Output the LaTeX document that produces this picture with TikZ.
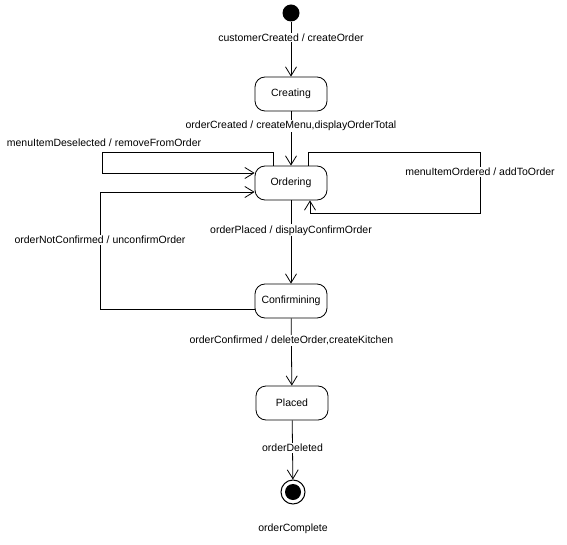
\documentclass[tikz,border=0pt]{standalone}
\usepackage{fontspec}
\setmainfont{Liberation Sans}
\usetikzlibrary{arrows.meta}

\begin{document}
\begin{tikzpicture}[x=1pt,y=-1pt,
    state/.style={draw,line width=0.8pt,rounded corners=10pt,minimum width=72pt,minimum height=34pt,inner sep=0pt,font=\fontsize{10.5}{12}\selectfont},
    trans/.style={draw,line width=0.8pt,-{Straight Barb[length=9pt,width=11pt]}},
    lbl/.style={fill=white,inner sep=1pt,font=\fontsize{10.5}{12}\selectfont}]
    \useasboundingbox (0,0) rectangle (567,545);

    % states
    \node[circle,fill,minimum size=17pt,inner sep=0pt] (init) at (291,13) {};
    \node[state] (creating) at (291,94) {Creating};
    \node[state] (ordering) at (291,183) {Ordering};
    \node[state] (confirming) at (291,301) {Confirmining};
    \node[state] (placed) at (292,403) {Placed};
    \node[circle,draw,line width=1pt,minimum size=24pt,inner sep=0pt] (final) at (293,492) {};
    \node[circle,fill,minimum size=16pt,inner sep=0pt] (finaldot) at (final) {};
    \node[font=\fontsize{10.5}{12}\selectfont] (finallbl) at (293,529) {orderComplete};

    % straight transitions
    \draw[trans] (init) -- (creating) node[lbl,pos=0.29] {customerCreated / createOrder};
    \draw[trans] (creating) -- (ordering) node[lbl,pos=0.27] {orderCreated / createMenu,displayOrderTotal};
    \draw[trans] (ordering) -- (confirming) node[lbl,pos=0.36] {orderPlaced / displayConfirmOrder};
    \draw[trans] (confirming) -- (placed) node[lbl,pos=0.33] {orderConfirmed / deleteOrder,createKitchen};
    \draw[trans] (placed) -- (final) node[lbl,pos=0.47] {orderDeleted};

    % loops
    \draw[trans] ([xshift=-18pt]ordering.north) |- (102,152) |- ([yshift=10pt]ordering.west);
    \node[lbl] (deselLbl) at (104,143) {menuItemDeselected / removeFromOrder};
    \draw[trans] ([xshift=17pt]ordering.north) |- (480,152) -- (480,213) node[lbl,pos=0.33] {menuItemOrdered / addToOrder} -| ([xshift=19pt]ordering.south);
    \draw[trans] ([yshift=-8pt]confirming.west) -| (100,192) node[lbl,pos=0.795] {orderNotConfirmed / unconfirmOrder} -- ([yshift=-9pt]ordering.west);

\end{tikzpicture}
\end{document}
